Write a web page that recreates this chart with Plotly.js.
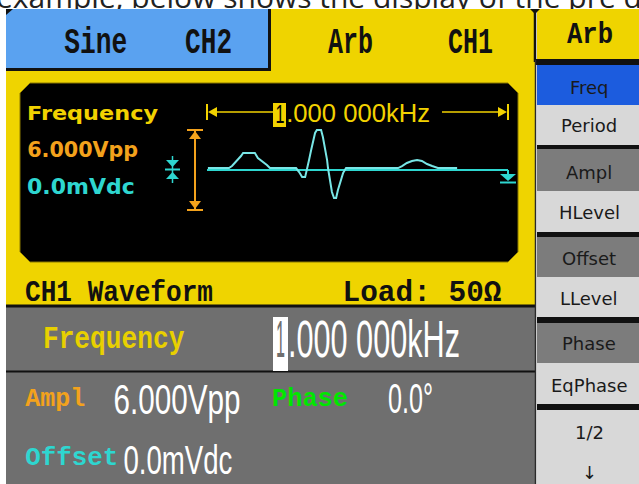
<!DOCTYPE html>
<html><head><meta charset="utf-8">
<script src="https://cdn.plot.ly/plotly-3.0.1.min.js"></script>
<style>html,body{margin:0;padding:0;background:#fff;overflow:hidden}</style>
</head><body><div id="chart" style="width:639px;height:484px"></div>
<script>
// ---- data: arbitrary waveform over one period (1 kHz => 1000 us), volts ----
const waveTime = [3, 73, 83, 93, 103, 113, 120, 159, 169, 183, 199, 209, 296, 306, 316, 326, 332, 339, 346, 352, 359, 365, 379, 385, 392, 399, 402, 409, 415, 422, 429, 435, 442, 452, 462, 635, 648, 664, 681, 698, 714, 731, 748, 767, 831];
const waveVolt = [0.15, 0.15, 0.3, 0.53, 0.75, 1.05, 1.28, 1.28, 0.9, 0.68, 0.38, 0.15, 0.15, -0.15, -0.53, -0.53, 0, 0.75, 1.5, 2.1, 2.78, 3.0, 3.0, 2.48, 1.73, 0.75, 0.15, -0.75, -1.65, -2.1, -2.1, -1.5, -0.98, -0.23, 0.15, 0.15, 0.3, 0.53, 0.68, 0.75, 0.68, 0.45, 0.3, 0.15, 0.15];
const offsetTime = [0, 1000];
const offsetVolt = [0, 0];
const softkeyLabels = ['Freq', 'Period', 'Ampl', 'HLevel', 'Offset', 'LLevel', 'Phase', 'EqPhase', '1/2'];
const tabLabels = ['Sine', 'CH2', 'Arb', 'CH1'];
const freqText = '1.000 000kHz';
const amplText = '6.000Vpp';
const offsText = '0.0mVdc';
const phaseText = '0.0\u00b0';
const captionText = 'example, below shows the display of the pre defined';

// ---- styles / geometry ----
const YEL = '#efd400', BLUE_TAB = '#5aa2f0', BLUE_KEY = '#1c5cde', GRAY = '#6f6f6f',
      KEY_DARK = '#7c7c7c', KEY_LIGHT = '#d8d8d8', CYAN = '#2ed6d0', WAVE = '#78e6e6',
      ORANGE = '#f3a21c', SYEL = '#f2d200', GREEN = '#00e600';
const keyBoxes = [[65,105],[105,145],[149,191],[191,232],[237,277],[277,317],[323,363],[363,404],[410,484]];
const keyFill = [BLUE_KEY, KEY_LIGHT, KEY_DARK, KEY_LIGHT, KEY_DARK, KEY_LIGHT, KEY_DARK, KEY_LIGHT, KEY_LIGHT];
const keyTextY = [87, 125, 172, 212, 258, 298, 343, 385, 432];

const shapes = [];
function rect(x0,y0,x1,y1,fill,lc,lw){shapes.push({type:'rect',xref:'x',yref:'y',x0,y0,x1,y1,fillcolor:fill,line:{color:lc||fill,width:lw||0},layer:'below'});}
function line(x0,y0,x1,y1,c,w){shapes.push({type:'line',xref:'x',yref:'y',x0,y0,x1,y1,line:{color:c,width:w},layer:'below'});}
function path(d,fill,lc,lw){shapes.push({type:'path',xref:'x',yref:'y',path:d,fillcolor:fill,line:{color:lc||fill,width:lw||0},layer:'below'});}

rect(6,9,535,306,YEL);
rect(6,9,270,70,BLUE_TAB);
line(269.5,9,269.5,71,'#111',3);
line(6,69.5,271,69.5,'#111',3);
path('M6,9 L13,9 L6,15 Z','#111');
rect(537,9,639,60,YEL);
line(535,9,535,62,'#111',2.5);
rect(535,59,639,65,'#111');
path('M530,9 L540,9 L535,14 Z','#111');
rect(537,60,639,484,'#111');
keyBoxes.forEach((b,i)=>rect(537,b[0],639,b[1],keyFill[i]));
rect(6,306,535,484,GRAY);
line(6,306,535,306,'#111',3);
line(6,371.5,535,371.5,'#111',2);
line(535.5,60,535.5,484,'#2a2a2a',1.5);
// screen
path('M30,83 L508,83 L518,93 L518,252 L508,262 L30,262 L20,252 L20,93 Z','#000','#8a7800',1);
// frequency span arrow
line(207,104,207,120,SYEL,2); path('M208,112 L217,107 L217,117 Z',SYEL);
line(212,112,273,112,SYEL,1.5);
line(442,112,503,112,SYEL,1.5); path('M507,112 L498,107 L498,117 Z',SYEL);
line(508,104,508,120,SYEL,2);
rect(273,103,286,127,SYEL);
// amplitude arrow
line(195,131,195,209,ORANGE,2);
line(187,130,203,130,ORANGE,2); line(187,210,203,210,ORANGE,2);
path('M195,131 L189,139 L201,139 Z',ORANGE);
path('M195,209 L189,201 L201,201 Z',ORANGE);
// offset symbol
line(172.5,156,172.5,183,CYAN,1.5);
path('M166,160 L179,160 L172.5,167 Z',CYAN);
line(165,169.5,180,169.5,CYAN,2);
path('M166,179 L179,179 L172.5,172 Z',CYAN);
// ground symbol
line(508,170,508,174,CYAN,2);
path('M500,174 L516,174 L508,181 Z',CYAN);
line(500,182.5,516,182.5,CYAN,2);
// white cursor box
rect(273,317,288,371,'#ffffff');

const anns = [];
const condensed = [];
function txt(x,y,text,family,size,color,opts){
  opts = opts||{};
  const a = {xref:'x',yref:'y',x,y,text,showarrow:false,xanchor:opts.xa||'center',yanchor:'middle',
    font:{family,size,color,weight:opts.bold?'bold':'normal'}};
  anns.push(a);
  if(opts.w) condensed.push({i:anns.length-1,w:opts.w,sy:opts.sy||1});
}
const MONO = 'Liberation Mono', SANS = 'DejaVu Sans', LSANS = 'Liberation Sans';
anns.push({xref:'paper',yref:'paper',x:-6/639,y:1+3.5/484,xanchor:'left',yanchor:'middle',showarrow:false,
  text:captionText,font:{family:'Open Sans',size:30,color:'#222'}});
txt(96,43,tabLabels[0],MONO,34,'#111',{bold:1,w:63,sy:1.08});
txt(208,43,tabLabels[1],MONO,34,'#111',{bold:1,w:47,sy:1.08});
txt(350,43,tabLabels[2],MONO,34,'#111',{bold:1,w:45,sy:1.08});
txt(470,43,tabLabels[3],MONO,34,'#111',{bold:1,w:45,sy:1.08});
txt(590,35,'Arb',MONO,30,'#111',{bold:1,w:46});
txt(119,293,'CH1 Waveform',MONO,30,'#111',{bold:1,w:188});
txt(422,293,'Load: 50\u03a9',MONO,30,'#111',{bold:1,w:159});
// screen texts
txt(92.5,113,'Frequency',SANS,20,SYEL,{bold:1,w:131});
txt(82.5,149,amplText,SANS,20,ORANGE,{bold:1,w:111,sy:1.1});
txt(81,186,offsText,SANS,20,CYAN,{bold:1,w:108,sy:1.1});
txt(279.5,114,freqText.slice(0,1),LSANS,25,'#000',{w:9});
txt(358,113,freqText.slice(1),LSANS,25,SYEL,{w:144});
// lower parameter area
txt(114,339,'Frequency',MONO,31,'#e8d000',{bold:1,w:142});
txt(280.5,339,freqText.slice(0,1),LSANS,52,GRAY,{w:9});
txt(374,339,freqText.slice(1),LSANS,52,'#ffffff',{w:172});
txt(55,399,'Ampl',MONO,26,ORANGE,{bold:1,w:60});
txt(176.5,399,amplText,LSANS,42,'#ffffff',{w:127});
txt(310,399,'Phase',MONO,26,GREEN,{bold:1,w:76});
txt(410.5,398,phaseText,LSANS,42,'#ffffff',{w:45});
txt(71.5,458,'Offset',MONO,26,CYAN,{bold:1,w:93});
txt(177.5,460,offsText,LSANS,40,'#ffffff',{w:109});
// softkeys
softkeyLabels.forEach((s,i)=>txt(589,keyTextY[i],s,SANS,18,'#1a1a1a'));
txt(589,472,'\u2193',SANS,18,'#1a1a1a');

const traces = [
  {x:offsetTime,y:offsetVolt,xaxis:'x2',yaxis:'y2',mode:'lines',line:{color:CYAN,width:2},hoverinfo:'skip'},
  {x:waveTime,y:waveVolt,xaxis:'x2',yaxis:'y2',mode:'lines',line:{color:WAVE,width:2},hoverinfo:'skip'}
];
const H = 484, W = 639;
const layout = {
  width:W,height:H,margin:{l:0,r:0,t:0,b:0},paper_bgcolor:'#ffffff',plot_bgcolor:'rgba(0,0,0,0)',
  showlegend:false,
  xaxis:{range:[0,W],visible:false,fixedrange:true,domain:[0,1]},
  yaxis:{range:[H,0],visible:false,fixedrange:true,domain:[0,1]},
  xaxis2:{range:[0,1000],domain:[207/W,508/W],anchor:'y2',visible:false,fixedrange:true},
  yaxis2:{range:[-6.9,6.53],domain:[1-262/H,1-83/H],anchor:'x2',visible:false,fixedrange:true},
  shapes,annotations:anns
};
Plotly.newPlot('chart',traces,layout,{displayModeBar:false,staticPlot:true}).then(()=>{
  condensed.forEach(c=>{
    const g = document.querySelector('g.annotation[data-index="'+c.i+'"]');
    if(!g) return;
    const t = g.querySelector('text');
    const bb = t.getBBox();
    if(!bb.width) return;
    const sx = c.w/bb.width;
    t.style.transformBox='fill-box';
    t.style.transformOrigin='center';
    t.style.transform='scale('+sx+','+c.sy+')';
  });
  // the caption above the display is cut by the display frame (y >= 9)
  const cap = document.querySelector('g.annotation[data-index="0"]');
  if(cap){
    const ns='http://www.w3.org/2000/svg';
    const svg = cap.ownerSVGElement;
    let defs = svg.querySelector('defs');
    if(!defs){defs=document.createElementNS(ns,'defs');svg.insertBefore(defs,svg.firstChild);}
    const cp=document.createElementNS(ns,'clipPath'); cp.setAttribute('id','captioncut');
    cp.setAttribute('clipPathUnits','userSpaceOnUse');
    const r=document.createElementNS(ns,'rect');
    r.setAttribute('x',-100);r.setAttribute('y',-100);r.setAttribute('width',900);r.setAttribute('height',109);
    cp.appendChild(r); defs.appendChild(cp);
    cap.setAttribute('clip-path','url(#captioncut)');
  }
});
</script></body></html>
